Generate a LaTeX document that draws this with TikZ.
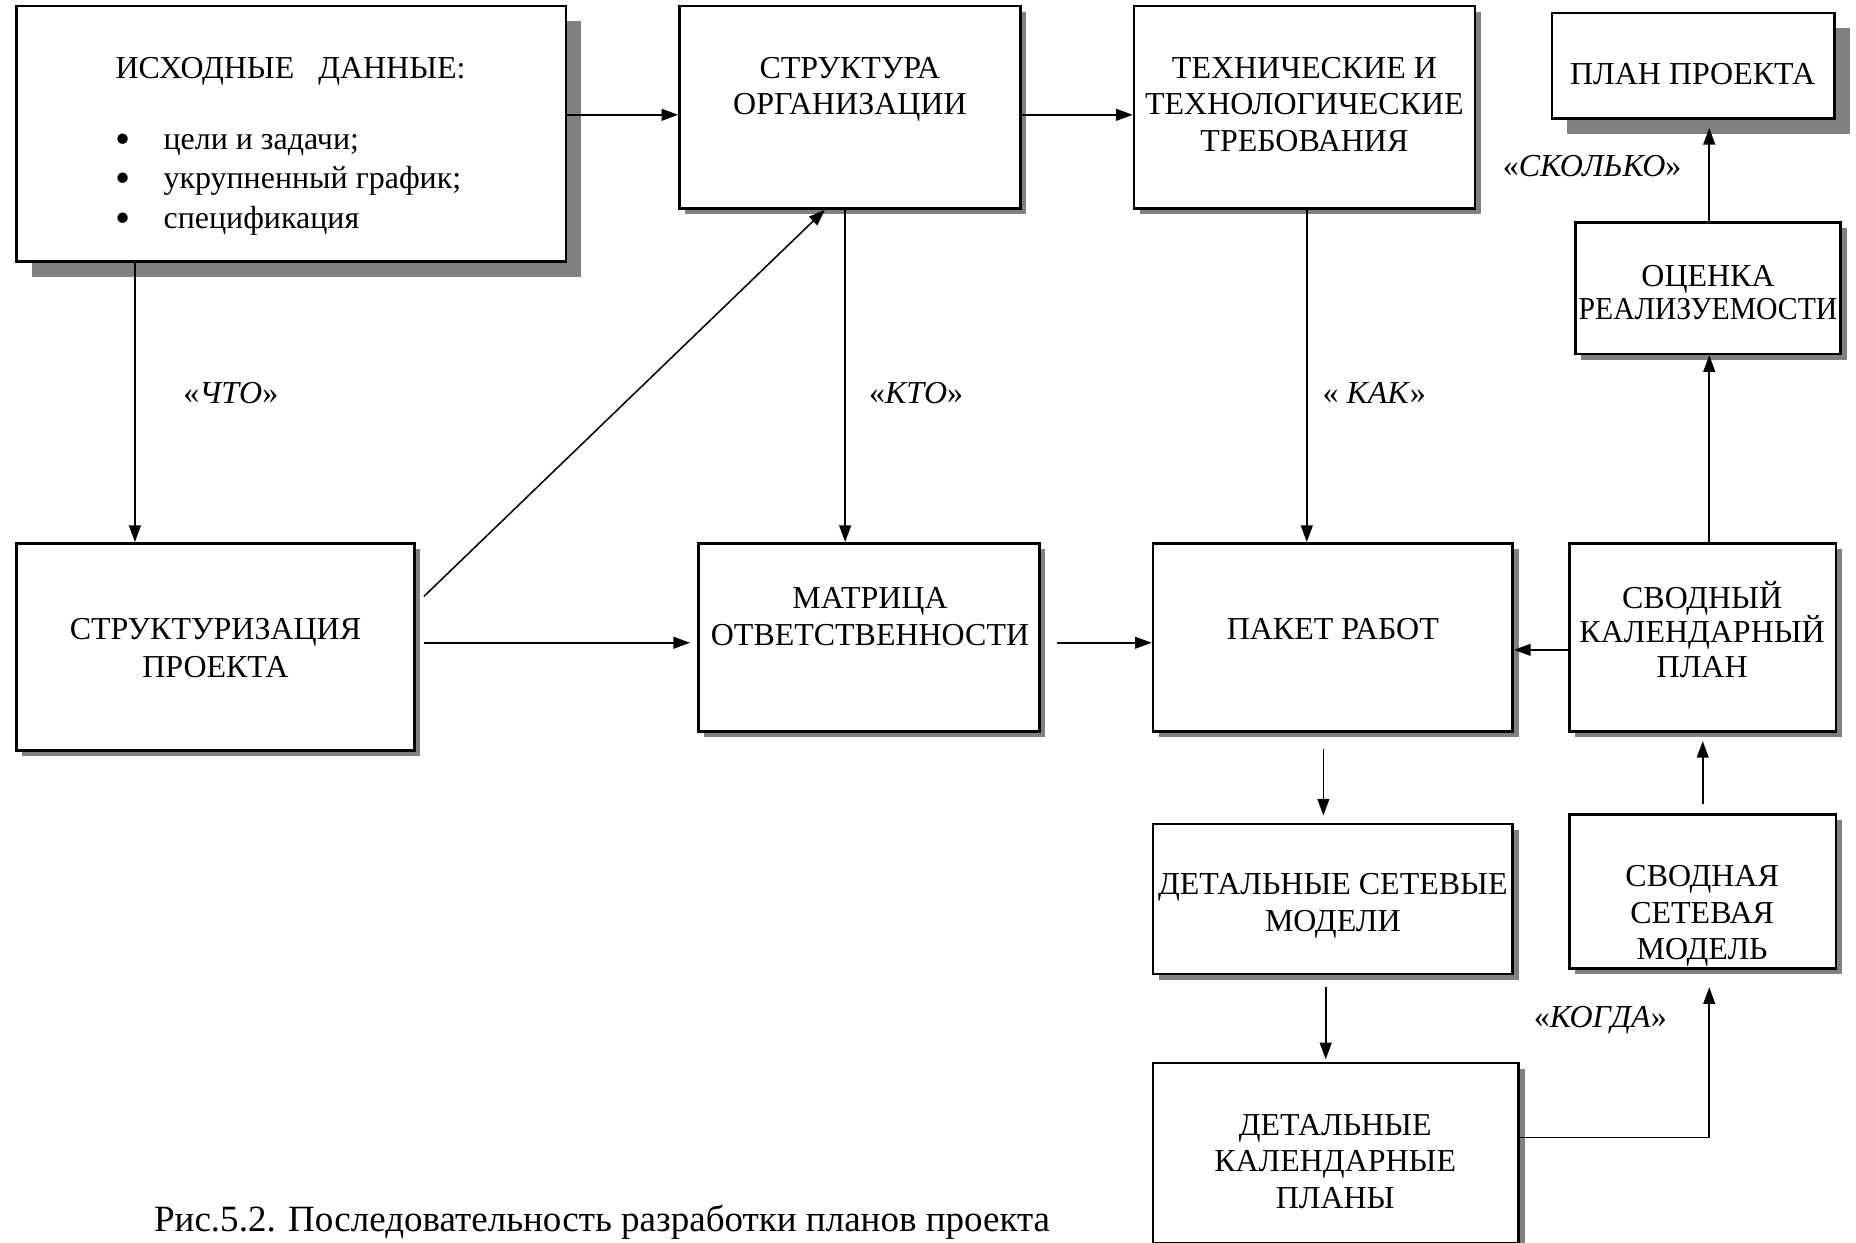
\documentclass[tikz,border=0pt]{standalone}
\usepackage{graphicx}
\usepackage{fontspec}
\setmainfont{Liberation Serif}
\usetikzlibrary{arrows.meta,shadows}
\definecolor{shgray}{RGB}{128,128,128}
\newcommand{\bigbul}{\makebox[41pt][l]{\raisebox{-3.5pt}[0pt][0pt]{\scalebox{1.35}{•}}}}
\begin{document}
\begin{tikzpicture}[x=1pt,y=-1pt,
  font=\fontsize{27}{31}\selectfont,
  box/.style={draw, line width=2.2pt, fill=white, inner sep=0pt,
    drop shadow={shadow xshift=5pt, shadow yshift=-5pt, fill=shgray, opacity=1}},
  bigbox/.style={draw, line width=2.2pt, fill=white, inner sep=0pt,
    drop shadow={shadow xshift=13pt, shadow yshift=-13pt, fill=shgray, opacity=1}},
  txt/.style={anchor=base, align=center, inner sep=0pt},
  arr/.style={line width=1.3pt, -{Triangle[length=14pt,width=10pt]}},
  lab/.style={inner sep=0pt}]
\useasboundingbox (0,0) rectangle (1568,1050);

% boxes
\node[bigbox, minimum width=464pt, minimum height=216pt] (A) at (246,113) {};
\node[box, minimum width=288pt, minimum height=171pt] (B) at (718,90.5) {};
\node[box, minimum width=288pt, minimum height=171pt] (C) at (1102,90.5) {};
\node[bigbox, minimum width=239pt, minimum height=89pt] (D) at (1430.5,55.5) {};
\node[box, minimum width=224pt, minimum height=111pt] (E) at (1443,243.5) {};
\node[box, minimum width=336pt, minimum height=175pt] (F) at (182,546.5) {};
\node[box, minimum width=288pt, minimum height=159pt] (G) at (734,538.5) {};
\node[box, minimum width=304pt, minimum height=159pt] (H) at (1126,538.5) {};
\node[box, minimum width=225pt, minimum height=159pt] (I) at (1438.5,538.5) {};
\node[box, minimum width=304pt, minimum height=127pt] (J) at (1126,759.5) {};
\node[box, minimum width=225pt, minimum height=130pt] (K) at (1438.5,753) {};
\node[box, minimum width=309pt, minimum height=152pt] (L) at (1128.5,974) {};

% texts (base anchor = baseline of last line)
\node[txt] (At) at (245.5,66) {ИСХОДНЫЕ\ \ \ ДАННЫЕ:};
\node[anchor=base west, align=left, inner sep=0pt, font=\fontsize{27}{33.5}\selectfont] (Al) at (97,193)
  {\bigbul цели и задачи;\\ \bigbul укрупненный график;\\ \bigbul спецификация};
\node[txt] (Bt) at (718,97) {СТРУКТУРА\\ОРГАНИЗАЦИИ};
\node[txt] (Ct) at (1102,128) {ТЕХНИЧЕСКИЕ И\\ТЕХНОЛОГИЧЕСКИЕ\\ТРЕБОВАНИЯ};
\node[txt] (Dt) at (1430,71) {ПЛАН ПРОЕКТА};
\node[txt, font=\fontsize{27}{28}\selectfont] (Et) at (1443,270) {ОЦЕНКА\\\scalebox{0.93}[1]{РЕАЛИЗУЕМОСТИ}};
\node[txt, font=\fontsize{27}{32}\selectfont] (Ft) at (182,572) {СТРУКТУРИЗАЦИЯ\\ПРОЕКТА};
\node[txt] (Gt) at (735,545) {МАТРИЦА\\ОТВЕТСТВЕННОСТИ};
\node[txt] (Ht) at (1126,540) {ПАКЕТ РАБОТ};
\node[txt, font=\fontsize{27}{29}\selectfont] (It) at (1438,572) {СВОДНЫЙ\\КАЛЕНДАРНЫЙ\\ПЛАН};
\node[txt] (Jt) at (1126,787) {ДЕТАЛЬНЫЕ СЕТЕВЫЕ\\МОДЕЛИ};
\node[txt] (Kt) at (1438,811) {СВОДНАЯ\\СЕТЕВАЯ\\МОДЕЛЬ};
\node[txt] (Lt) at (1128,1021) {ДЕТАЛЬНЫЕ\\КАЛЕНДАРНЫЕ\\ПЛАНЫ};

% connectors
\draw[arr] ([yshift=16pt]A.east) -- ([yshift=16pt]A.east -| B.west);
\draw[arr] ([yshift=-6.5pt]B.east) -- ([yshift=-6.5pt]B.east -| C.west);
\draw[arr] ([xshift=-132pt]A.south) -- ([xshift=-132pt]A.south |- F.north);
\draw[arr] ([xshift=7pt,yshift=-46pt]F.north east) -- ([xshift=-21pt]B.south);
\draw[arr] ([xshift=-4pt]B.south) -- ([xshift=-4pt]B.south |- G.north);
\draw[arr] ([xshift=2pt]C.south) -- ([xshift=2pt]C.south |- H.north);
\draw[arr, shorten <=7pt, shorten >=6pt] ([yshift=3.5pt]F.east) -- ([yshift=3.5pt]F.east -| G.west);
\draw[arr, shorten <=14pt] ([yshift=-4.5pt]G.east) -- ([yshift=-4.5pt]G.east -| H.west);
\draw[arr] ([yshift=-10.5pt]I.west) -- ([yshift=-10.5pt]I.west -| H.east);
\draw[arr, shorten <=14pt, shorten >=6pt] ([xshift=-8pt]H.south) -- ([xshift=-8pt]H.south |- J.north);
\draw[arr, shorten <=10pt, shorten >=2pt] ([xshift=-6pt]J.south) -- ([xshift=-6pt]J.south |- L.north);
\draw[arr, shorten >=15pt] ([yshift=13pt]L.east) -| ([xshift=5.5pt]K.south);
\draw[arr, shorten <=8pt, shorten >=7pt] (K.north) -- (I.south);
\draw[arr] ([xshift=5.5pt]I.north) -- ([xshift=5.5pt]I.north |- E.south);
\draw[arr, shorten >=7pt] ([xshift=1pt]E.north) -- ([xshift=1pt]E.north |- D.south);

% labels
\node[lab] (l1) at (195,332) {«\textit{ЧТО}»};
\node[lab] (l2) at (774,332) {«\textit{КТО}»};
\node[lab] (l3) at (1161,332) {« \textit{КАК}»};
\node[lab] (l4) at (1345,140) {«\textit{СКОЛЬКО}»};
\node[lab] (l5) at (1352,862) {«\textit{КОГДА}»};

% caption
\node[anchor=base west, inner sep=0pt, font=\fontsize{31.3}{36}\selectfont] (cap) at (130,1040)
  {Рис.5.2. Последовательность разработки планов проекта};
\end{tikzpicture}
\end{document}
